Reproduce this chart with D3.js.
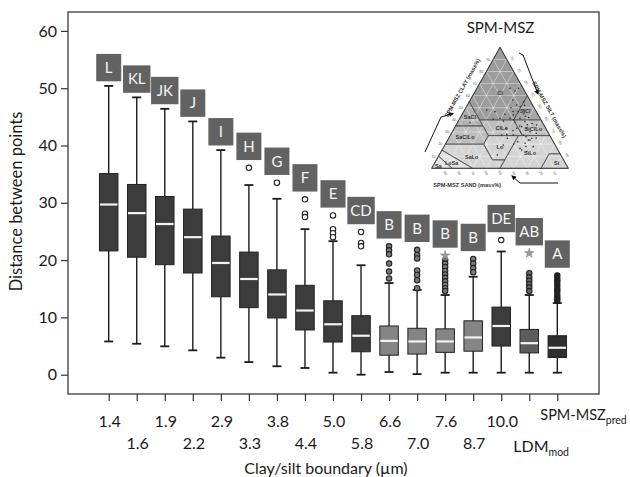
<!DOCTYPE html>
<html>
<head>
<meta charset="utf-8">
<script src="https://cdn.jsdelivr.net/npm/d3@7"></script>
<style>
body { margin: 0; background: #fff; }
svg { display: block; }
</style>
</head>
<body>
<svg id="chart" width="630" height="477"></svg>
<script>
// clay/silt boundary categories (last two carry a subscript)
var boundaries = ["1.4", "1.6", "1.9", "2.2", "2.9", "3.3", "3.8", "4.4", "5.0", "5.8",
                  "6.6", "7.0", "7.6", "8.7", "10.0", "LDM", "SPM-MSZ"];
var boundarySubs = ["", "", "", "", "", "", "", "", "", "", "", "", "", "", "", "mod", "pred"];
var groupLetters = ["L", "KL", "JK", "J", "I", "H", "G", "F", "E", "CD", "B", "B", "B", "B", "DE", "AB", "A"];

var whiskerLow  = [5.8, 5.4, 4.95, 4.25, 2.97, 2.2, 1.47, 1.17, 0.35, 0.0, 0.47, 0.1, 0.35, 0.35, 0.35, 0.35, 0.35];
var q1          = [21.6, 20.5, 19.2, 17.75, 13.6, 11.7, 9.9, 7.8, 5.7, 4.0, 3.4, 3.6, 3.9, 4.1, 5.0, 3.8, 3.0];
var median      = [29.7, 28.2, 26.3, 24.0, 19.5, 16.7, 14.0, 11.2, 8.8, 6.8, 5.9, 5.8, 5.8, 6.5, 8.5, 5.5, 4.7];
var q3          = [35.1, 33.2, 31.1, 28.9, 24.2, 21.4, 18.3, 15.6, 12.9, 10.3, 8.5, 8.1, 8.0, 9.4, 11.8, 7.9, 6.8];
var whiskerHigh = [50.4, 48.4, 46.4, 44.2, 39.2, 33.1, 30.7, 25.4, 23.3, 19.1, 16.0, 14.8, 13.9, 17.1, 21.5, 13.9, 12.5];
var outliers = [[], [], [], [], [], [36.1], [33.5], [30.6, 28.1, 27.5], [27.8, 25.4, 24.7, 24.0],
                [24.9, 23.0, 22.4], [22.4, 21.7, 21.0, 19.4, 18.0, 16.8],
                [21.8, 20.9, 20.3, 18.2, 17.4, 16.5, 15.1],
                [20.0, 19.4, 18.8, 18.1, 17.5, 16.9, 16.3, 15.7, 15.1, 14.6],
                [20.2, 19.4, 18.6, 17.9], [23.5], [17.7, 17.0, 16.4, 15.8, 15.2, 14.6],
                [17.3, 16.7, 16.2, 15.6, 15.0, 14.5, 13.9, 13.4, 12.9]];
var extremes = [[], [], [], [], [], [], [], [], [], [], [], [], [20.8], [], [], [21.2], []];
var yTicks = [0, 10, 20, 30, 40, 50, 60];

// inset soil texture triangle: region corners as [sand, silt, clay]
var regionNames = ["Cl", "SaCl", "SiCl", "SaClLo", "ClLo", "SiClLo", "Lo", "SaLo", "SiLo", "Si", "LoSa", "Sa"];
var regionPolys = [
    [[0, 0, 100], [0, 40, 60], [20, 40, 40], [45, 15, 40], [45, 0, 55]],
    [[45, 0, 55], [45, 15, 40], [45, 20, 35], [65, 0, 35]],
    [[0, 40, 60], [0, 60, 40], [20, 40, 40]],
    [[45, 20, 35], [65, 0, 35], [80, 0, 20], [52, 28, 20], [45, 28, 27]],
    [[20, 40, 40], [45, 15, 40], [45, 20, 35], [45, 28, 27], [20, 53, 27]],
    [[0, 60, 40], [20, 40, 40], [20, 53, 27], [0, 73, 27]],
    [[45, 28, 27], [52, 28, 20], [52, 41, 7], [43, 50, 7], [23, 50, 27]],
    [[52, 28, 20], [80, 0, 20], [85, 0, 15], [70, 30, 0], [50, 50, 0], [43, 50, 7], [52, 41, 7]],
    [[0, 73, 27], [23, 50, 27], [43, 50, 7], [50, 50, 0], [20, 80, 0], [8, 80, 12], [0, 88, 12]],
    [[0, 88, 12], [8, 80, 12], [20, 80, 0], [0, 100, 0]],
    [[85, 0, 15], [90, 0, 10], [85, 15, 0], [70, 30, 0]],
    [[90, 0, 10], [100, 0, 0], [85, 15, 0]]
];
// label anchor of each region as [clay, silt]
var regionLabelAt = [[62, 19], [42, 7], [47, 45], [25.6, 11.6], [33, 34.7], [32.2, 58.3],
                     [17.9, 41], [9.6, 24.5], [12.4, 65.8], [4, 89.5], [4, 12.6], [2, 3.8]];
// sampled points as [clay, silt] (mass%)
var samplePoints = [[66.1, 24.3], [63.9, 29.0], [56.4, 31.1], [52.3, 36.1], [50.9, 39.2], [48.2, 43.0],
    [46.8, 40.0], [44.0, 37.7], [41.3, 36.7], [44.6, 31.3], [41.3, 29.4], [46.8, 22.9], [48.2, 16.2],
    [40.7, 24.7], [41.3, 44.0], [38.5, 49.0], [34.4, 48.7], [33.1, 53.0], [30.2, 56.9], [27.5, 53.3],
    [23.4, 59.0], [24.8, 60.8], [20.7, 58.0], [16.5, 56.4], [17.9, 65.4], [35.8, 58.9], [33.1, 45.7],
    [27.5, 46.0], [27.5, 37.5], [19.3, 42.8], [13.7, 62.7], [37.7, 9.2], [11.0, 42.5], [15.1, 58.3],
    [66.1, 30.4], [23.3, 60.3], [24.8, 43.0], [45, 45], [42, 50], [38, 42], [30, 50], [36, 52],
    [50, 33], [55, 40], [29, 62], [20, 50], [33, 38], [40, 40], [43, 47], [37, 55], [31, 44],
    [26, 56], [22, 52], [18, 60], [28, 41], [47, 36], [39, 33], [52, 42], [35, 47], [25, 64]];
var tickPercents = [10, 20, 30, 40, 50, 60, 70, 80, 90];

var svg = d3.select("#chart");
var font = "Lato, 'Open Sans', sans-serif";
var idx = d3.range(boundaries.length);

var x = d3.scalePoint().domain(idx).range([108.7, 557.3]);
var y = d3.scaleLinear().domain([-3.37, 63.3]).range([394, 12]);

function boxFill(i) {
    if (i >= 10 && i <= 13) return "#858585";
    if (i == 15) return "#5c5c5c";
    if (i == 16) return "#2e2e2e";
    return "#3c3c3c";
}
function dotFill(i) {
    if (i >= 10 && i <= 13) return "#7a7a7a";
    if (i == 15) return "#666";
    if (i == 16) return "#222";
    return "#fff";
}

// ---- inset: texture triangle ----
var tx = d3.scaleLinear().domain([0, 100]).range([431.7, 568.3]);
var ty = d3.scaleLinear().domain([0, 100]).range([168.3, 47.3]);
function tern(clay, silt) { return [tx(silt + clay / 2), ty(clay)]; }

var inset = svg.append("g").attr("class", "inset");
var shade = {Cl: "#9c9c9c", SiCl: "#a6a6a6", SaCl: "#b0b0b0", SaClLo: "#bdbdbd", ClLo: "#bdbdbd",
             SiClLo: "#bdbdbd", Lo: "#d2d2d2", SaLo: "#d4d4d4", SiLo: "#d4d4d4", Si: "#d4d4d4",
             LoSa: "#e2e2e2", Sa: "#e2e2e2"};
var line = d3.line();

inset.selectAll(".region")
    .data(regionPolys)
    .enter().append("path")
    .attr("class", "region")
    .attr("d", function (p) { return line(p.map(function (c) { return tern(c[2], c[1]); })) + "Z"; })
    .attr("fill", function (p, i) { return shade[regionNames[i]]; })
    .attr("stroke", "none");

// white grid inside the triangle
tickPercents.forEach(function (v) {
    var segs = [
        [tern(v, 0), tern(v, 100 - v)],          // constant clay
        [tern(0, v), tern(100 - v, v)],          // constant silt
        [tern(0, 100 - v), tern(100 - v, 0)]     // constant sand
    ];
    segs.forEach(function (s) {
        inset.append("path").attr("d", line(s))
            .attr("stroke", "#fff").attr("stroke-width", 0.6).attr("opacity", 0.7);
    });
});

inset.selectAll(".border")
    .data(regionPolys)
    .enter().append("path")
    .attr("d", function (p) { return line(p.map(function (c) { return tern(c[2], c[1]); })) + "Z"; })
    .attr("fill", "none")
    .attr("stroke", "#3a3a3a")
    .attr("stroke-width", 0.6);

inset.append("path")
    .attr("d", line([tern(100, 0), tern(0, 0), tern(0, 100)]) + "Z")
    .attr("fill", "none").attr("stroke", "#333").attr("stroke-width", 0.9);

inset.selectAll(".rlab")
    .data(regionNames)
    .enter().append("text")
    .attr("x", function (d, i) { return tern(regionLabelAt[i][0], regionLabelAt[i][1])[0]; })
    .attr("y", function (d, i) { return tern(regionLabelAt[i][0], regionLabelAt[i][1])[1] + 2; })
    .attr("text-anchor", "middle")
    .style("font-family", "'Liberation Sans', sans-serif")
    .style("font-size", "5.5px")
    .style("font-weight", "bold")
    .style("fill", "#333")
    .text(function (d) { return d; });

inset.selectAll(".pt")
    .data(samplePoints)
    .enter().append("circle")
    .attr("cx", function (d) { return tern(d[0], d[1])[0]; })
    .attr("cy", function (d) { return tern(d[0], d[1])[1]; })
    .attr("r", 0.8)
    .attr("fill", "#2a2a2a");

// tiny tick numbers around the triangle
var tickStyle = function (sel) {
    sel.style("font-family", "'Liberation Sans', sans-serif")
        .style("font-size", "3.6px").style("fill", "#555").attr("text-anchor", "middle");
};
tickPercents.forEach(function (v) {
    var pl = tern(v, 0);
    inset.append("text").attr("transform", "translate(" + (pl[0] - 5) + "," + (pl[1] + 1.3) + ")")
        .call(tickStyle).text(v);
    var pr = tern(100 - v, v);
    inset.append("text").attr("transform", "translate(" + (pr[0] + 4.5) + "," + (pr[1] - 0.5) + ") rotate(60)")
        .call(tickStyle).text(v);
    var pb = tern(0, 100 - v);
    inset.append("text").attr("transform", "translate(" + (pb[0] - 1) + "," + (pb[1] + 5.5) + ") rotate(60)")
        .call(tickStyle).text(v);
});

var axTitle = function (sel) {
    sel.style("font-family", "'Liberation Sans', sans-serif")
        .style("font-size", "5.6px").style("font-weight", "bold")
        .style("fill", "#333").attr("text-anchor", "middle");
};
var cT = tern(62, 0);
inset.append("text").attr("transform", "translate(" + (cT[0] - 10) + "," + (cT[1] - 4.5) + ") rotate(-60.6)")
    .call(axTitle).text("SPM-MSZ CLAY (mass%)");
var sT = tern(45, 55);
inset.append("text").attr("transform", "translate(" + (sT[0] + 10) + "," + (sT[1] - 3.5) + ") rotate(60.6)")
    .call(axTitle).text("SPM-MSZ SILT (mass%)");
inset.append("text").attr("x", tx(26)).attr("y", 186.5)
    .call(axTitle).text("SPM-MSZ SAND (mass%)");

// direction arrows
svg.append("defs").append("marker")
    .attr("id", "head").attr("viewBox", "0 0 10 10").attr("refX", 8).attr("refY", 5)
    .attr("markerWidth", 5).attr("markerHeight", 5).attr("orient", "auto")
    .append("path").attr("d", "M0,0L10,5L0,10Z").attr("fill", "#111");
[
    [[425, 152], [441, 117], [453, 113.5]],
    [[519, 53], [523, 55], [538, 94]],
    [[558, 183], [520, 183], [512, 176]]
].forEach(function (pts) {
    inset.append("path").attr("d", line(pts))
        .attr("fill", "none").attr("stroke", "#111").attr("stroke-width", 1)
        .attr("marker-end", "url(#head)");
});

svg.append("text")
    .attr("x", 500.5).attr("y", 33.3)
    .attr("text-anchor", "middle")
    .style("font-family", font).style("font-size", "15px").style("fill", "#1a1a1a")
    .text("SPM-MSZ");

// ---- axes ----
var yAxis = svg.append("g")
    .attr("transform", "translate(68,0)")
    .call(d3.axisLeft(y).tickValues(yTicks).tickSize(7).tickPadding(4));
yAxis.select(".domain").remove();
yAxis.selectAll("line").attr("stroke", "#333").attr("stroke-width", 1.2);
yAxis.selectAll("text").style("font-family", font).style("font-size", "16px").style("fill", "#1a1a1a");

var xAxis = svg.append("g")
    .attr("transform", "translate(0,394)")
    .call(d3.axisBottom(x).tickSize(7).tickFormat(""));
xAxis.select(".domain").remove();
xAxis.selectAll("line").attr("stroke", "#333").attr("stroke-width", 1.2);

svg.append("rect")
    .attr("x", 68).attr("y", 12).attr("width", 531).attr("height", 382)
    .attr("fill", "none").attr("stroke", "#3a3a3a").attr("stroke-width", 1.3);

// category labels alternate between two rows
svg.selectAll(".xlab")
    .data(idx)
    .enter().append("text")
    .attr("class", "xlab")
    .style("font-family", font).style("font-size", "16px").style("fill", "#1a1a1a")
    .each(function (i) {
        var t = d3.select(this);
        if (!boundarySubs[i]) {
            t.attr("x", x(i) + 1)
                .attr("y", i % 2 == 0 ? 426.5 : 448.5)
                .attr("text-anchor", "middle")
                .text(boundaries[i]);
        } else {
            // subscripted labels sit a little off their tick, as in the original
            t.attr("x", x(i) + (i % 2 == 0 ? -17 : -16))
                .attr("y", i % 2 == 0 ? 420 : 451.5)
                .style("font-size", i % 2 == 0 ? "14.5px" : "16px");
            t.append("tspan").text(boundaries[i]);
            t.append("tspan").attr("dy", 4).style("font-size", "10.5px").text(boundarySubs[i]);
        }
    });

svg.append("text")
    .attr("x", 326).attr("y", 474)
    .attr("text-anchor", "middle")
    .style("font-family", font).style("font-size", "16px").style("fill", "#1a1a1a")
    .text("Clay/silt boundary (\u00b5m)");

svg.append("text")
    .attr("transform", "translate(22,201.5) rotate(-90)")
    .attr("text-anchor", "middle")
    .style("font-family", font).style("font-size", "16.5px").style("fill", "#1a1a1a")
    .text("Distance between points");

// ---- box plots ----
var bw = 18.5, cap = 9;
var boxes = svg.selectAll(".box")
    .data(idx)
    .enter().append("g")
    .attr("class", "box")
    .attr("transform", function (i) { return "translate(" + x(i) + ",0)"; });

boxes.append("line")
    .attr("y1", function (i) { return y(whiskerLow[i]); })
    .attr("y2", function (i) { return y(whiskerHigh[i]); })
    .attr("stroke", "#1c1c1c").attr("stroke-width", 1.4);
boxes.append("line")
    .attr("x1", -cap / 2).attr("x2", cap / 2)
    .attr("y1", function (i) { return y(whiskerLow[i]); })
    .attr("y2", function (i) { return y(whiskerLow[i]); })
    .attr("stroke", "#1c1c1c").attr("stroke-width", 1.8);
boxes.append("line")
    .attr("x1", -cap / 2).attr("x2", cap / 2)
    .attr("y1", function (i) { return y(whiskerHigh[i]); })
    .attr("y2", function (i) { return y(whiskerHigh[i]); })
    .attr("stroke", "#1c1c1c").attr("stroke-width", 1.8);
boxes.append("rect")
    .attr("x", -bw / 2).attr("width", bw)
    .attr("y", function (i) { return y(q3[i]); })
    .attr("height", function (i) { return y(q1[i]) - y(q3[i]); })
    .attr("fill", function (i) { return boxFill(i); })
    .attr("stroke", "#222").attr("stroke-width", 1);
boxes.append("line")
    .attr("x1", -bw / 2 + 0.5).attr("x2", bw / 2 - 0.5)
    .attr("y1", function (i) { return y(median[i]); })
    .attr("y2", function (i) { return y(median[i]); })
    .attr("stroke", "#f2f2f2").attr("stroke-width", 2.2);

boxes.each(function (i) {
    var g = d3.select(this);
    g.selectAll(".out")
        .data(outliers[i])
        .enter().append("circle")
        .attr("cy", function (v) { return y(v); })
        .attr("r", 2.7)
        .attr("fill", dotFill(i))
        .attr("stroke", "#222").attr("stroke-width", 1.1);
    g.selectAll(".ext")
        .data(extremes[i])
        .enter().append("path")
        .attr("d", d3.symbol(d3.symbolStar, 30))
        .attr("transform", function (v) { return "translate(0," + y(v) + ")"; })
        .attr("fill", "#9a9a9a").attr("stroke", "#888").attr("stroke-width", 0.5);
});

// ---- group letter labels above each box ----
var lbH = 27.4;
var labels = svg.selectAll(".grp")
    .data(idx)
    .enter().append("g")
    .attr("class", "grp")
    .attr("transform", function (i) {
        var tops = outliers[i].concat(extremes[i]);
        var bottom = tops.length ? y(d3.max(tops)) - 7.8 : y(whiskerHigh[i]) - 4.6;
        return "translate(" + x(i) + "," + (bottom - lbH) + ")";
    });
labels.append("rect")
    .attr("x", function (i) { return groupLetters[i].length > 1 ? -13.7 : -12.5; })
    .attr("width", function (i) { return groupLetters[i].length > 1 ? 27.4 : 25; })
    .attr("height", lbH)
    .attr("fill", "#626262");
labels.append("text")
    .attr("y", lbH / 2 + 5.3)
    .attr("text-anchor", "middle")
    .style("font-family", font).style("font-size", "15px").style("fill", "#f5f5f5")
    .text(function (i) { return groupLetters[i]; });
</script>
</body>
</html>
